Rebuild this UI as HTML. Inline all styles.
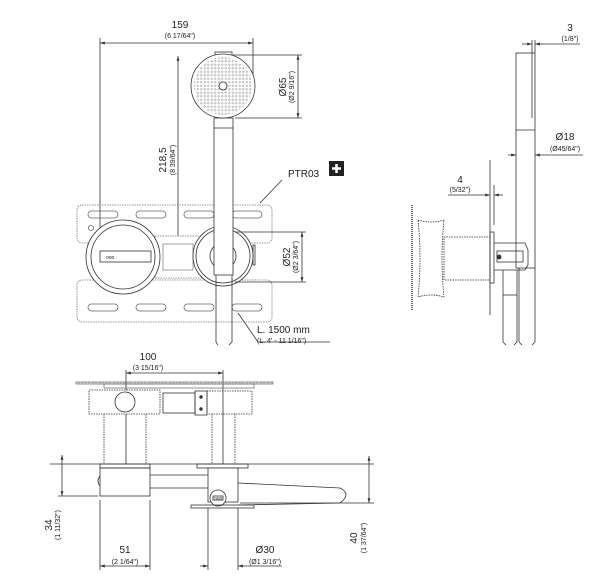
<!DOCTYPE html>
<html><head><meta charset="utf-8"><style>
html,body{margin:0;padding:0;background:#fff}
svg{display:block}
text{font-family:"Liberation Sans",sans-serif;fill:#222}
.t{font-size:10px}.s{font-size:7px}
</style></head><body>
<svg width="610" height="587" viewBox="0 0 610 587" xmlns="http://www.w3.org/2000/svg">
<defs>
<marker id="a" viewBox="0 0 10 10" refX="10" refY="5" markerWidth="6" markerHeight="6" orient="auto-start-reverse"><path d="M0,2 L10,5 L0,8z" fill="#333"/></marker>
<pattern id="dots" width="3.5" height="3.5" patternUnits="userSpaceOnUse"><circle cx="1.75" cy="1.75" r="0.8" fill="none" stroke="#666" stroke-width="0.4"/></pattern>
</defs>
<g stroke="#333" stroke-width="0.8" fill="none">
<line x1="100" y1="43" x2="253" y2="43" marker-start="url(#a)" marker-end="url(#a)"/>
<line x1="100" y1="38" x2="100" y2="255"/>
<line x1="253" y1="38" x2="253" y2="75"/>
<line x1="178" y1="56" x2="178" y2="262" marker-start="url(#a)" marker-end="url(#a)"/>
<line x1="233" y1="55" x2="302" y2="55"/><line x1="235" y1="118" x2="302" y2="118"/>
<line x1="298" y1="55" x2="298" y2="118" marker-start="url(#a)" marker-end="url(#a)"/>
<rect x="77" y="205" width="195" height="38" rx="5" stroke="#777" stroke-dasharray="1.5 1"/>
<rect x="77" y="280" width="195" height="42" rx="5" stroke="#777" stroke-dasharray="1.5 1"/>
<g stroke="#666">
<rect x="88" y="211" width="30" height="7" rx="3.5"/><rect x="136" y="211" width="30" height="7" rx="3.5"/><rect x="184" y="211" width="30" height="7" rx="3.5"/><rect x="232" y="211" width="30" height="7" rx="3.5"/>
<rect x="88" y="304" width="30" height="7" rx="3.5"/><rect x="136" y="304" width="30" height="7" rx="3.5"/><rect x="184" y="304" width="30" height="7" rx="3.5"/><rect x="232" y="304" width="30" height="7" rx="3.5"/>
<circle cx="91" cy="228" r="2.5"/>
</g>
<rect x="155" y="236" width="50" height="42" stroke="#777" stroke-dasharray="1.5 1" fill="#fff"/>
<rect x="163" y="244" width="30" height="26" stroke="#888"/>
<circle cx="123" cy="257" r="37" fill="#fff"/>
<circle cx="123" cy="257" r="32"/>
<rect x="100" y="251" width="51" height="11"/>
<circle cx="223" cy="256" r="30" fill="#fff"/>
<circle cx="223" cy="256" r="27"/>
<circle cx="223" cy="256" r="13"/>
<rect x="253" y="245" width="2" height="20"/>
<line x1="235" y1="232" x2="306" y2="232"/><line x1="235" y1="282" x2="306" y2="282"/>
<line x1="302" y1="232" x2="302" y2="282" marker-start="url(#a)" marker-end="url(#a)"/>
<rect x="214" y="118" width="19" height="157" fill="#fff"/>
<line x1="214" y1="128" x2="233" y2="128"/>
<path d="M216,275 L216,342 L218,345 M232,275 L232,342 L229,345"/>
<rect x="215" y="52" width="17" height="4"/>
<circle cx="223" cy="86" r="32" fill="#fff"/>
<circle cx="223" cy="86" r="29" fill="url(#dots)" stroke="none"/>
<circle cx="223" cy="86" r="4" fill="#fff"/>
<path d="M282,180 L260,203"/>
<path d="M238,313 L258,342 L330,342"/>
<line x1="126" y1="373" x2="223" y2="373" marker-start="url(#a)" marker-end="url(#a)"/>
<line x1="126" y1="370" x2="126" y2="464"/><line x1="223" y1="370" x2="223" y2="464"/>
<rect x="76" y="382" width="197" height="2" fill="url(#dots)" stroke="#777"/>
<rect x="104" y="384" width="150" height="4" stroke="#777"/>
<rect x="89" y="390" width="71" height="24" stroke-dasharray="1.5 1" fill="#fff"/>
<circle cx="125" cy="402" r="10"/>
<rect x="163" y="393" width="32" height="20"/>
<rect x="195" y="391" width="12" height="24"/>
<circle cx="201" cy="397" r="1.3" fill="#333"/><circle cx="201" cy="409" r="1.3" fill="#333"/>
<rect x="207" y="391" width="45" height="23" stroke-dasharray="1.5 1"/>
<line x1="104" y1="414" x2="104" y2="464" stroke-dasharray="1.5 1"/>
<line x1="146" y1="414" x2="146" y2="464" stroke-dasharray="1.5 1"/>
<line x1="212" y1="414" x2="212" y2="464" stroke-dasharray="1.5 1"/>
<line x1="235" y1="414" x2="235" y2="464" stroke-dasharray="1.5 1"/>
<line x1="50" y1="464" x2="374" y2="464"/>
<rect x="100" y="464" width="50" height="4"/>
<rect x="100" y="468" width="50" height="28"/>
<path d="M100,476 q-4,5 0,10"/>
<line x1="150" y1="475" x2="208" y2="475"/><line x1="150" y1="488" x2="208" y2="488"/>
<rect x="197" y="464" width="51" height="4"/>
<rect x="208" y="468" width="30" height="34" fill="#fff"/>
<path d="M238,483 L340,488 Q352,494 340,503 L238,505"/>
<circle cx="218" cy="498" r="8" fill="#fff"/>
<rect x="213" y="496" width="10" height="4"/>
<rect x="191" y="505" width="63" height="3"/>
<line x1="62" y1="455" x2="62" y2="496" marker-start="url(#a)" marker-end="url(#a)"/>
<line x1="58" y1="496" x2="98" y2="496"/>
<line x1="100" y1="500" x2="100" y2="570"/><line x1="150" y1="500" x2="150" y2="570"/>
<line x1="100" y1="566" x2="150" y2="566" marker-start="url(#a)" marker-end="url(#a)"/>
<line x1="208" y1="508" x2="208" y2="570"/><line x1="238" y1="508" x2="238" y2="570"/>
<line x1="200" y1="566" x2="208" y2="566" marker-end="url(#a)"/>
<line x1="238" y1="566" x2="282" y2="566" marker-start="url(#a)"/>
<line x1="240" y1="503" x2="374" y2="503"/>
<line x1="369" y1="456" x2="369" y2="503" marker-start="url(#a)" marker-end="url(#a)"/>
<line x1="522" y1="44" x2="532" y2="44" marker-end="url(#a)"/>
<line x1="535" y1="44" x2="580" y2="44" marker-start="url(#a)"/>
<line x1="532" y1="40" x2="532" y2="53"/><line x1="535" y1="40" x2="535" y2="53"/>
<rect x="516" y="53" width="19" height="215"/>
<line x1="532" y1="53" x2="532" y2="118"/>
<line x1="516" y1="130" x2="535" y2="130"/>
<line x1="508" y1="155" x2="516" y2="155" marker-end="url(#a)"/>
<line x1="535" y1="155" x2="583" y2="155" marker-start="url(#a)"/>
<line x1="490" y1="160" x2="490" y2="315"/>
<line x1="448" y1="195" x2="490" y2="195" marker-end="url(#a)"/>
<line x1="494" y1="195" x2="503" y2="195" marker-start="url(#a)"/>
<line x1="494" y1="185" x2="494" y2="225"/>
<rect x="490" y="232" width="4" height="51"/>
<line x1="412" y1="205" x2="412" y2="310" stroke-width="2" stroke="#666" stroke-dasharray="1 1"/>
<path d="M418,220 Q431,224 444,220 Q440,258 444,297 Q431,293 418,297 Q422,258 418,220z" stroke-dasharray="1.5 1"/>
<rect x="444" y="237" width="46" height="43" stroke-dasharray="1.5 1"/>
<path d="M494,243 L525,243 L528,250 L528,265 L525,270 L494,270"/>
<rect x="497" y="251" width="26" height="11"/>
<circle cx="499" cy="257" r="2" fill="#333"/>
<path d="M503,270 L503,342 L506,345 M517,270 L517,342 L514,345"/>
<line x1="503" y1="295" x2="517" y2="295"/>
<path d="M519,268 L519,342 L522,345 M535,268 L535,342 L532,345"/>
</g>
<rect x="329" y="161" width="15" height="15" fill="#222"/>
<path d="M336.5,164 V173 M332,168.5 H341" stroke="#fff" stroke-width="2.5"/>
<text class="t" x="288" y="177">PTR03</text>
<text class="t" x="257" y="333">L. 1500 mm</text>
<text class="s" x="257" y="343">(L. 4' - 11 1/16")</text>
<g text-anchor="middle">
<text class="t" x="180" y="28">159</text><text class="s" x="180" y="38">(6 17/64")</text>
<text class="t" x="148" y="360">100</text><text class="s" x="148" y="370">(3 15/16")</text>
<text class="t" x="125" y="553">51</text><text class="s" x="125" y="564">(2 1/64")</text>
<text class="t" x="265" y="553">Ø30</text><text class="s" x="265" y="564">(Ø1 3/16")</text>
<text class="t" x="570" y="31">3</text><text class="s" x="570" y="41">(1/8")</text>
<text class="t" x="565" y="140">Ø18</text><text class="s" x="565" y="151">(Ø45/64")</text>
<text class="t" x="460" y="183">4</text><text class="s" x="460" y="192">(5/32")</text>
<text class="t" transform="translate(166,160) rotate(-90)">218,5</text>
<text class="s" transform="translate(175,160) rotate(-90)">(8 39/64")</text>
<text class="t" transform="translate(286,87) rotate(-90)">Ø65</text>
<text class="s" transform="translate(294,87) rotate(-90)">(Ø2 9/16")</text>
<text class="t" transform="translate(290,257) rotate(-90)">Ø52</text>
<text class="s" transform="translate(298,257) rotate(-90)">(Ø2 3/64")</text>
<text class="t" transform="translate(52,525) rotate(-90)">34</text>
<text class="s" transform="translate(60,525) rotate(-90)">(1 11/32")</text>
<text class="t" transform="translate(357,538) rotate(-90)">40</text>
<text class="s" transform="translate(366,538) rotate(-90)">(1 37/64")</text>
</g>
<text x="106" y="259" font-size="5" font-family="Liberation Sans">ooo</text>
<text x="214" y="500" font-size="5" font-family="Liberation Sans">ooo</text>
</svg>
</body></html>
